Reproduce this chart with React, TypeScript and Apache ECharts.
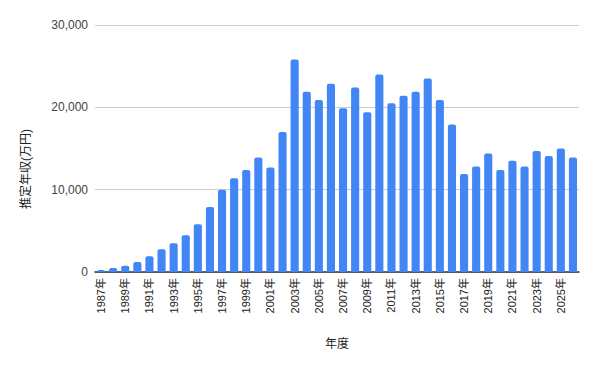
import React, { useEffect, useRef } from "react";
import * as echarts from "echarts";

const years: string[] = [
  "1987年", "1988年", "1989年", "1990年", "1991年", "1992年", "1993年", "1994年", "1995年", "1996年",
  "1997年", "1998年", "1999年", "2000年", "2001年", "2002年", "2003年", "2004年", "2005年", "2006年",
  "2007年", "2008年", "2009年", "2010年", "2011年", "2012年", "2013年", "2014年", "2015年", "2016年",
  "2017年", "2018年", "2019年", "2020年", "2021年", "2022年", "2023年", "2024年", "2025年", "2026年",
];

const income: number[] = [
  250, 500, 750, 1200, 1900, 2750, 3500, 4450, 5800, 7900,
  10000, 11400, 12400, 13900, 12700, 17000, 25800, 21900, 20900, 22850,
  19900, 22400, 19400, 24000, 20500, 21400, 21900, 23500, 20900, 17900,
  11900, 12800, 14400, 12400, 13500, 12800, 14700, 14100, 15000, 13900,
];

const yTicks = { min: 0, max: 30000, interval: 10000 };
const xTitle = "年度";
const yTitle = "推定年収(万円)";

const FONT = '"Liberation Sans", Arial, "Noto Sans CJK JP", sans-serif';

export default function App() {
  const ref = useRef<HTMLDivElement>(null);
  useEffect(() => {
    if (!ref.current) return;
    const chart = echarts.init(ref.current, undefined, { renderer: "svg" });
    chart.setOption({
      animation: false,
      textStyle: { fontFamily: FONT },
      grid: { left: 95, right: 21, top: 25, bottom: 97, containLabel: false },
      graphic: [
        {
          type: "text",
          x: 26,
          y: 169,
          rotation: Math.PI / 2,
          style: {
            text: yTitle,
            fontFamily: FONT,
            fontSize: 12,
            fill: "#222",
            align: "center",
            verticalAlign: "middle",
          },
        },
      ],
      xAxis: {
        type: "category",
        data: years,
        name: xTitle,
        nameLocation: "middle",
        nameGap: 66,
        nameTextStyle: { fontSize: 12, color: "#222", fontFamily: FONT },
        axisTick: { show: false },
        axisLine: { lineStyle: { color: "#333", width: 1.5 } },
        axisLabel: {
          rotate: 90,
          interval: 1,
          fontSize: 11,
          color: "#222",
          margin: 6,
          fontFamily: FONT,
        },
      },
      yAxis: {
        type: "value",
        min: yTicks.min,
        max: yTicks.max,
        interval: yTicks.interval,
        axisLine: { show: false },
        axisTick: { show: false },
        splitLine: { lineStyle: { color: "#cccccc", width: 1 } },
        axisLabel: {
          fontSize: 12,
          color: "#444",
          margin: 7,
          fontFamily: FONT,
          formatter: (v: number) => v.toLocaleString("en-US"),
        },
      },
      series: [
        {
          type: "bar",
          data: income,
          barCategoryGap: "33%",
          itemStyle: { color: "#4285F4", borderRadius: [2, 2, 0, 0] },
        },
      ],
    });
    return () => chart.dispose();
  }, []);
  return (
    <div
      ref={ref}
      style={{ position: "absolute", left: 0, top: 0, width: 600, height: 369 }}
    />
  );
}
